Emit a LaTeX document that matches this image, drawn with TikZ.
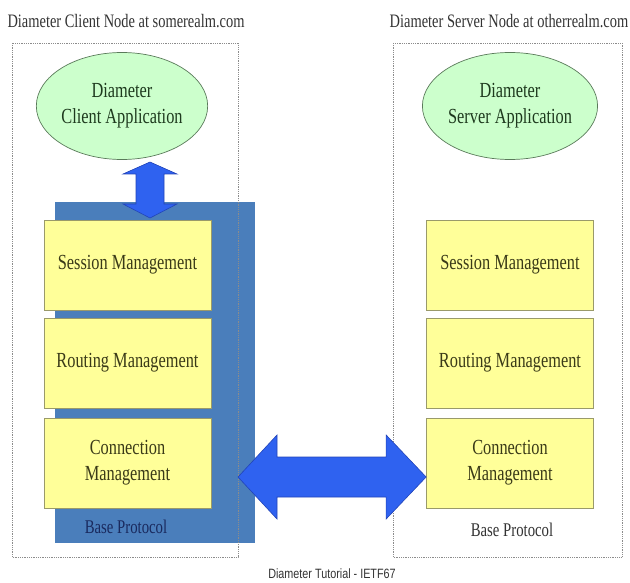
\documentclass[tikz,border=0pt]{standalone}
\usepackage{fontspec}
\setmainfont{Liberation Serif}[FakeStretch=0.76]
\newfontfamily\footfont{Liberation Sans}[FakeStretch=0.8]
\usetikzlibrary{shapes.geometric,calc}

\definecolor{appgreen}{HTML}{CCFFCC}
\definecolor{appline}{HTML}{5A7A5A}
\definecolor{apptext}{HTML}{1E3A1E}
\definecolor{layeryellow}{HTML}{FFFF99}
\definecolor{layerline}{HTML}{9A9A6A}
\definecolor{layertext}{HTML}{3A3A18}
\definecolor{baseblue}{HTML}{4A7EBB}
\definecolor{basetext}{HTML}{1A2A5E}
\definecolor{arrowblue}{HTML}{2F62F0}
\definecolor{arrowline}{HTML}{2244B8}
\definecolor{realmgray}{HTML}{8C8C8C}
\definecolor{titlegray}{HTML}{333333}

\begin{document}
\begin{tikzpicture}[x=1pt, y=-1pt,
    app/.style={ellipse, draw=appline, fill=appgreen, text=apptext, line width=0.7pt,
        minimum width=155pt, minimum height=107pt, inner sep=0pt, align=center,
        font=\fontsize{21.5}{26}\selectfont},
    layer/.style={rectangle, draw=layerline, fill=layeryellow, text=layertext, line width=0.7pt,
        minimum width=167pt, minimum height=90pt, inner sep=0pt, align=center,
        font=\fontsize{21.5}{26}\selectfont},
    realm/.style={draw=realmgray, densely dotted, line width=0.8pt},
    blockarrow/.style={fill=arrowblue, draw=arrowline, line width=0.6pt},
    title/.style={text=titlegray, font=\fontsize{19}{21}\selectfont},
    baselabel/.style={font=\fontsize{19.4}{21}\selectfont}]
    \useasboundingbox (0,0) rectangle (630,583);

    % Titel der beiden Knoten
    \node[title] (ctitle) at (126,21) {Diameter Client Node at somerealm.com};
    \node[title] (stitle) at (509,21) {Diameter Server Node at otherrealm.com};

    % Basisprotokoll (Client)
    \fill[baseblue] (55,202) rectangle (255,543);
    \node[baselabel, text=basetext] (cbase) at (126,527) {Base Protocol};

    % gepunktete Rahmen
    \draw[realm] (12,43) rectangle (238,557);
    \draw[realm] (393,43) rectangle (622,557);

    % Anwendungen
    \node[app] (capp) at (122,106) {Diameter\\Client Application};
    \node[app] (sapp) at (510,106) {Diameter\\Server Application};

    % Schichten links
    \node[layer] (csess) at (127.5,265) {Session Management};
    \node[layer] (crout) at (127.5,363) {Routing Management};
    \node[layer] (cconn) at (127.5,463) {Connection\\Management};

    % Schichten rechts
    \node[layer] (ssess) at (510,265) {Session Management};
    \node[layer] (srout) at (510,363) {Routing Management};
    \node[layer] (sconn) at (510,463) {Connection\\Management};
    \node[baselabel, text=titlegray] (sbase) at (512,530) {Base Protocol};

    % Pfeil zwischen Anwendung und Basisprotokoll
    \coordinate (utip) at (150,162);
    \coordinate (dtip) at (150,218);
    \draw[blockarrow] (utip) -- ++(27,12) -- ++(-13,0) -- ($(dtip)+(14,-14)$) -- ++(13,0)
        -- (dtip) -- ++(-27,-14) -- ++(13,0) -- ($(utip)+(-14,12)$) -- ++(-13,0) -- cycle;

    % Pfeil zwischen den Knoten
    \coordinate (ltip) at (238,477);
    \coordinate (rtip) at (sconn.west |- ltip);
    \draw[blockarrow] (ltip) -- ++(39,-42) -- ++(0,22) -- ($(rtip)+(-40,-20)$) -- ++(0,-22)
        -- (rtip) -- ++(-40,42) -- ++(0,-22) -- ($(ltip)+(39,20)$) -- ++(0,22) -- cycle;

    % Fusszeile
    \node[text=titlegray, font=\footfont\fontsize{13.5}{15}\selectfont] (footer) at (332,574)
        {Diameter Tutorial - IETF67};
\end{tikzpicture}
\end{document}
